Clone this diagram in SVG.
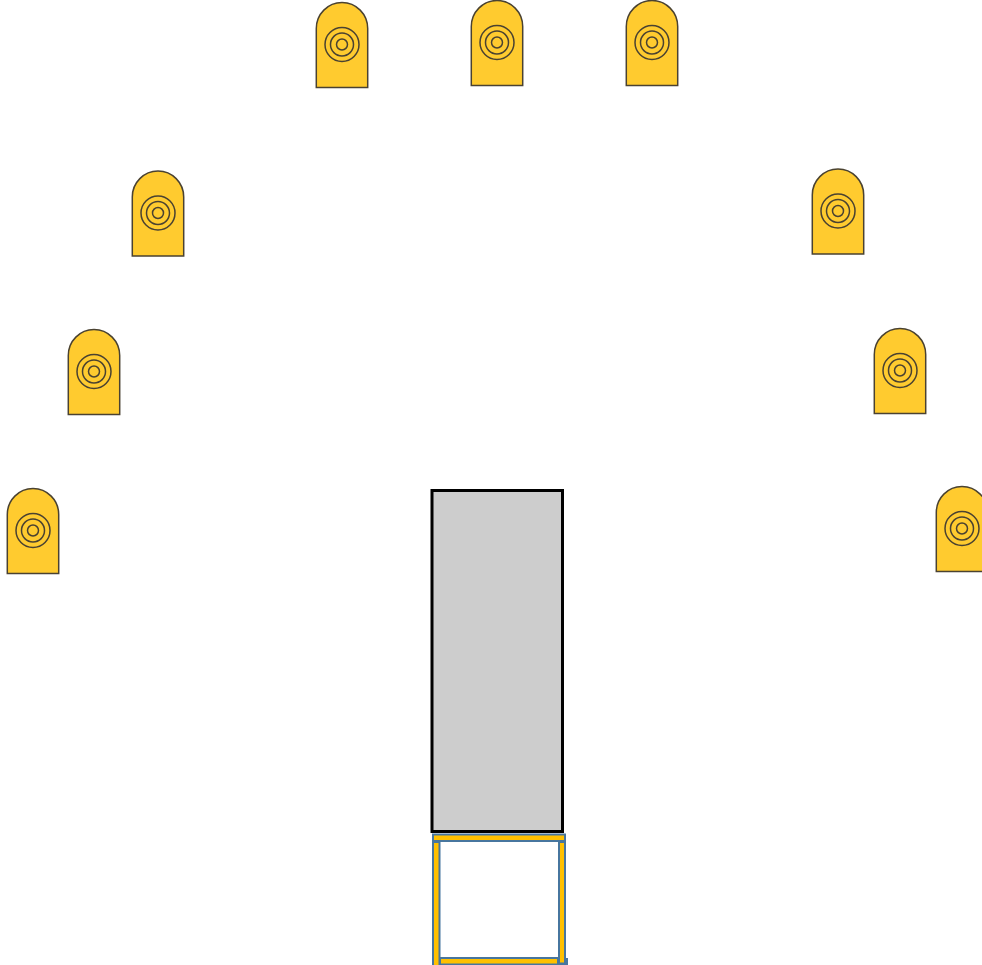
<svg xmlns="http://www.w3.org/2000/svg" width="982" height="965" viewBox="0 0 982 965">
<style>
.b{fill:#ffcb2f;stroke:#4a4231;stroke-width:1.5}
.r{fill:none;stroke:#4a4231;stroke-width:1.5}
.bar{fill:#ffc000;stroke:#47769f;stroke-width:2}
</style>
<defs>
<g id="t">
<path class="b" d="M-25.700 43V-16A25.700 26 0 0 1 25.700-16V43Z"/>
<circle class="r" r="17"/><circle class="r" r="11.500"/><circle class="r" r="5.500"/>
</g>
</defs>
<rect width="982" height="965" fill="#fff"/>
<g id="target-1"><use href="#t" x="33" y="530.5"/></g>
<g id="target-2"><use href="#t" x="94" y="371.5"/></g>
<g id="target-3"><use href="#t" x="158" y="213"/></g>
<g id="target-4"><use href="#t" x="342" y="44.5"/></g>
<g id="target-5"><use href="#t" x="497" y="42.5"/></g>
<g id="target-6"><use href="#t" x="652" y="42.5"/></g>
<g id="target-7"><use href="#t" x="838" y="211"/></g>
<g id="target-8"><use href="#t" x="900" y="370.5"/></g>
<g id="target-9"><use href="#t" x="962" y="528.5"/></g>
<g id="platform"><rect x="432" y="490.5" width="130.500" height="341" fill="#cdcdcd" stroke="#000" stroke-width="3"/></g>
<g id="frame">
<rect x="556" y="958" width="12" height="7" fill="#47769f"/>
<rect class="bar" x="433" y="842" width="6.500" height="125"/>
<rect class="bar" x="559" y="842" width="6" height="121.500"/>
<rect class="bar" x="440" y="958" width="118" height="6.500"/>
<rect class="bar" x="433" y="834.500" width="132" height="6.500"/>
</g>
</svg>
